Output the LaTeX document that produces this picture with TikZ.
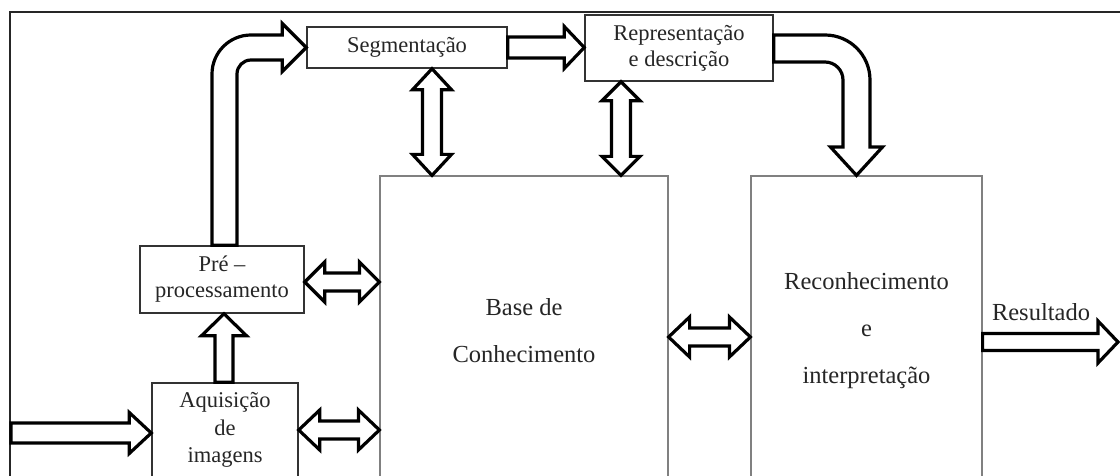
\documentclass[tikz,border=0pt]{standalone}
\usepackage{fontspec}
\setmainfont{Liberation Serif}
\usetikzlibrary{calc}
\tikzset{
  blk/.style={draw=black, line width=3.2pt, fill=white, line join=miter},
  sbox/.style={draw=black!80, line width=1.5pt, fill=white, inner sep=0pt, align=center,
    text=black!85, font=\fontsize{22.5}{26}\selectfont},
  bbox/.style={draw=black!50, line width=1.2pt, fill=white, inner sep=0pt, align=center,
    text=black!85, font=\fontsize{24.5}{47}\selectfont},
  frame/.style={draw=black!85, line width=2pt},
  lbl/.style={text=black!85, font=\fontsize{24.5}{28}\selectfont, inner sep=0pt}
}
% right-pointing single block arrow: from, to, y, shaft half, head half, head length
\newcommand\hsingle[6]{\draw[blk] let \p1=(#1), \p2=(#2) in
  (\x1,#3+#4) -- (\x2-#6,#3+#4) -- (\x2-#6,#3+#5) -- (\x2,#3) -- (\x2-#6,#3-#5)
  -- (\x2-#6,#3-#4) -- (\x1,#3-#4) -- cycle;}
% horizontal double block arrow
\newcommand\hdouble[6]{\draw[blk] let \p1=(#1), \p2=(#2) in
  (\x1,#3) -- (\x1+#6,#3+#5) -- (\x1+#6,#3+#4) -- (\x2-#6,#3+#4) -- (\x2-#6,#3+#5)
  -- (\x2,#3) -- (\x2-#6,#3-#5) -- (\x2-#6,#3-#4) -- (\x1+#6,#3-#4) -- (\x1+#6,#3-#5) -- cycle;}
% vertical double block arrow: top anchor, bottom anchor, x
\newcommand\vdouble[6]{\draw[blk] let \p1=(#1), \p2=(#2) in
  (#3,\y1) -- (#3+#5,\y1-#6) -- (#3+#4,\y1-#6) -- (#3+#4,\y2+#6) -- (#3+#5,\y2+#6)
  -- (#3,\y2) -- (#3-#5,\y2+#6) -- (#3-#4,\y2+#6) -- (#3-#4,\y1-#6) -- (#3-#5,\y1-#6) -- cycle;}
% upward single block arrow: bottom anchor, top anchor, x
\newcommand\vup[6]{\draw[blk] let \p1=(#1), \p2=(#2) in
  (#3-#4,\y1) -- (#3-#4,\y2-#6) -- (#3-#5,\y2-#6) -- (#3,\y2) -- (#3+#5,\y2-#6)
  -- (#3+#4,\y2-#6) -- (#3+#4,\y1) -- cycle;}
\begin{document}
\begin{tikzpicture}[x=1pt,y=1pt]
\useasboundingbox (0,0) rectangle (1120,475);
\fill[white] (0,0) rectangle (1120,475);
% frame
\draw[frame] (10,-2) -- (10,463) -- (1122,463);

% boxes
\node[sbox, minimum width=200pt, minimum height=41pt] (seg) at (407,427.5) {Segmentação};
\node[sbox, minimum width=188pt, minimum height=66pt] (rep) at (679,427) {Representação\\e descrição};
\node[sbox, minimum width=164pt, minimum height=67pt] (pre) at (222,195.5) {Pré –\\processamento};
\node[sbox, minimum width=146pt, minimum height=94pt, font=\fontsize{22.5}{27.5}\selectfont] (aq) at (225,45) {Aquisição\\de\\imagens};
\node[bbox, minimum width=288pt, minimum height=310pt] (base) at (524,144) {Base de\\Conhecimento};
\node[bbox, minimum width=231pt, minimum height=310pt] (rec) at (866.5,144) {Reconhecimento\\e\\interpretação};

\coordinate (in) at (11,42);
\coordinate (out) at (1118,133);

% straight block arrows
\hsingle{in}{aq.west}{42}{10}{20.5}{22}
\vup{aq.north}{pre.south}{224}{9}{22.5}{22}
\hdouble{pre.east}{base.west}{193}{9}{20}{20}
\hdouble{aq.east}{base.west}{45}{9}{20}{21}
\hdouble{base.east}{rec.west}{138}{9}{20}{21}
\hsingle{rec.east}{out}{133}{8.5}{21}{20}
\vdouble{seg.south}{base.north}{432}{9.5}{19.5}{21}
\vdouble{rep.south}{base.north}{621}{9.5}{19}{19}
\hsingle{seg.east}{rep.west}{427.5}{10.5}{21}{20}

% curved block arrow: pre -> seg
\draw[blk] let \p1=(pre.north), \p2=(seg.west) in
  (212,\y1) -- (212,401) arc[start angle=180, end angle=90, radius=39]
  -- (\x2-24,440) -- (\x2-24,451.5) -- (\x2,427.5) -- (\x2-24,403.5) -- (\x2-24,415)
  -- (251,415) arc[start angle=90, end angle=180, radius=14] -- (237,\y1) -- cycle;

% curved block arrow: rep -> rec
\draw[blk] let \p1=(rep.east), \p2=(rec.north) in
  (\x1,440) -- (825,440) arc[start angle=90, end angle=0, radius=45]
  -- (870,328) -- (882.5,328) -- (856.5,\y2) -- (830.5,328) -- (843,328)
  -- (843,395) arc[start angle=0, end angle=90, radius=18] -- (\x1,413) -- cycle;

\node[lbl, anchor=base] (res) at (1041,155) {Resultado};
\end{tikzpicture}
\end{document}
